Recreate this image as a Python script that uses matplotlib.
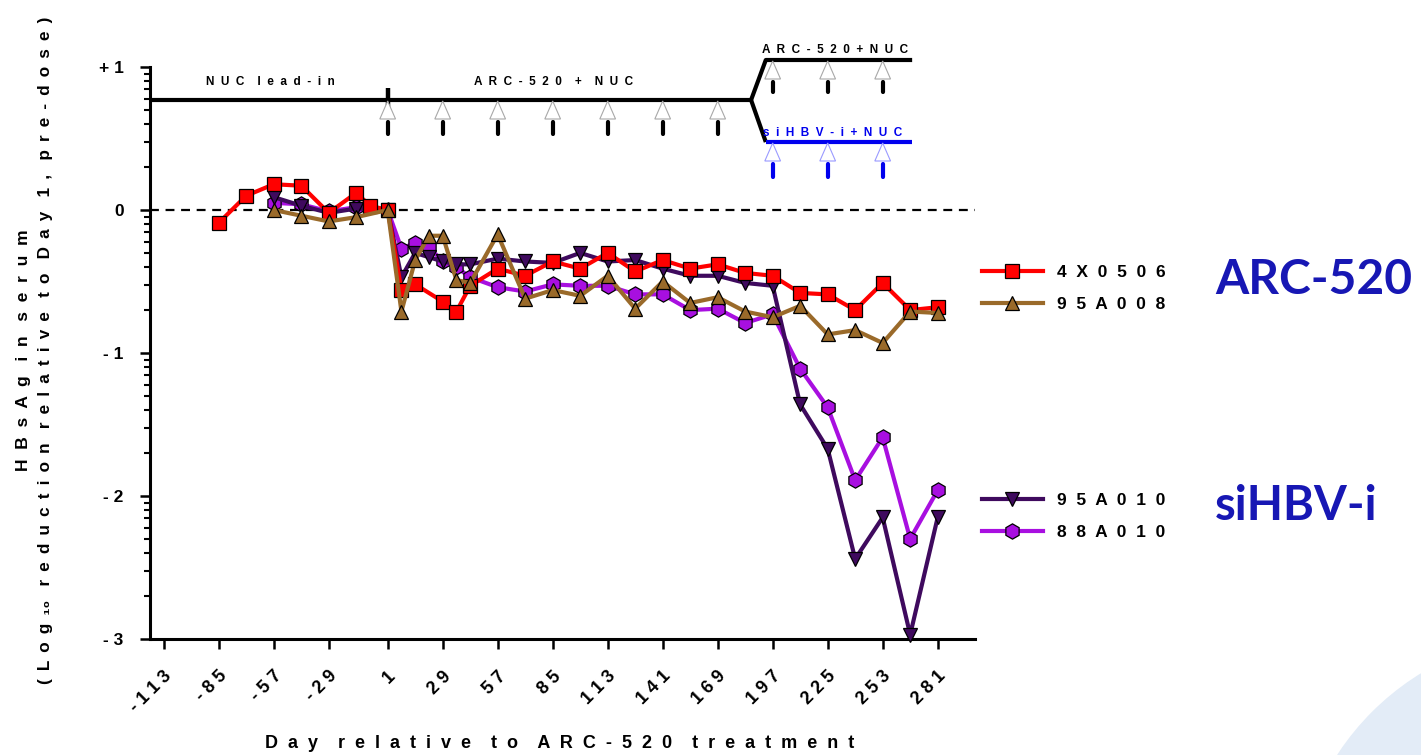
import matplotlib
matplotlib.use('Agg')
import matplotlib.pyplot as plt
from matplotlib.patches import Polygon, Circle
import numpy as np

plt.rcParams['font.family'] = ['Liberation Sans', 'DejaVu Sans']
plt.rcParams['font.weight'] = 'bold'

# ---------------- data ----------------
post_days = [57, 71, 85, 99, 113, 127, 141, 155, 169, 183, 197, 211, 225, 239, 253, 267, 281]

red_name = '4X0506'
red_days = [-85, -71, -57, -43, -29, -15, -8, 1, 8, 15, 29, 36, 43] + post_days
red_vals = [-0.09, 0.10, 0.18, 0.17, -0.02, 0.12, 0.03, 0.0,
            -0.56, -0.52, -0.64, -0.71, -0.53,
            -0.41, -0.46, -0.36, -0.41, -0.30, -0.43, -0.35, -0.41, -0.38,
            -0.44, -0.46, -0.58, -0.59, -0.70, -0.51, -0.70, -0.68]

brown_name = '95A008'
brown_days = [-57, -43, -29, -15, 1, 8, 15, 22, 29, 36, 43] + post_days
brown_vals = [0.0, -0.04, -0.08, -0.05, 0.0,
              -0.71, -0.35, -0.18, -0.18, -0.49, -0.51,
              -0.17, -0.62, -0.56, -0.60, -0.46, -0.69, -0.50, -0.65, -0.61,
              -0.71, -0.75, -0.67, -0.87, -0.84, -0.93, -0.71, -0.72]

dark_name = '95A010'
dark_days = [-57, -43, -29, -15, 1, 8, 15, 22, 29, 36, 43] + post_days
dark_vals = [0.09, 0.03, -0.02, 0.01, 0.0,
             -0.47, -0.30, -0.33, -0.36, -0.38, -0.38,
             -0.34, -0.36, -0.37, -0.30, -0.36, -0.35, -0.41, -0.46, -0.46,
             -0.51, -0.53, -1.36, -1.67, -2.44, -2.15, -2.97, -2.15]

mag_name = '88A010'
mag_days = [-57, -43, -29, -15, 1, 8, 15, 22, 29, 36, 43] + post_days
mag_vals = [0.05, 0.04, -0.01, 0.02, 0.0,
            -0.27, -0.23, -0.26, -0.36, -0.40, -0.47,
            -0.54, -0.57, -0.52, -0.53, -0.53, -0.59, -0.59, -0.70, -0.69,
            -0.79, -0.73, -1.11, -1.38, -1.89, -1.59, -2.30, -1.96]

x_ticks = [-113, -85, -57, -29, 1, 29, 57, 85, 113, 141, 169, 197, 225, 253, 281]
y_ticks = [1, 0, -1, -2, -3]
y_tick_labels = ['+1', '0', '-1', '-2', '-3']

arc_dose_days = [1, 29, 57, 85, 113, 141, 169]
switch_dose_days = [197, 225, 253]

x_title = 'Day relative to ARC-520 treatment'
y_title1 = 'HBsAg in serum'
y_title2 = '(Log\u2081\u2080 reduction relative to Day 1, pre-dose)'
group1 = 'ARC-520'
group2 = 'siHBV-i'


def sp(s, gap=' ', word=' ' * 3):
    words = s.split(' ')
    return word.join(gap.join(list(w)) for w in words)


# ---------------- figure ----------------
W, H = 1421, 755
fig = plt.figure(figsize=(W / 100, H / 100), dpi=100)
fig.patch.set_facecolor('white')

# slide decoration bottom right
fig.patches.append(Circle((15.6, -1.45), 2.66, transform=fig.dpi_scale_trans,
                          facecolor='#e3ecf7', edgecolor='none', zorder=0))

ax = fig.add_axes([150 / W, 1 - 639 / H, (975 - 150) / W, (639 - 67) / H])
ax.set_facecolor('none')
ax.set_xlim(-120, 300)
ax.set_ylim(-3, 1)

for s in ['top', 'right']:
    ax.spines[s].set_visible(False)
for s in ['left', 'bottom']:
    ax.spines[s].set_linewidth(2.2)

ax.set_xticks(x_ticks)
ax.set_xticklabels([])
ax.tick_params(axis='x', length=7, width=1.8, direction='out')
for d in x_ticks:
    ax.annotate(sp(str(d)), xy=(d, -3), xycoords='data', xytext=(4, -25),
                textcoords='offset points', rotation=45, rotation_mode='anchor',
                ha='right', va='center', fontsize=13, fontweight='bold')

ax.set_yticks(y_ticks)
ax.set_yticklabels([sp(t) for t in y_tick_labels], fontsize=12.5, fontweight='bold')
ax.tick_params(axis='y', length=7, width=1.8, direction='out', pad=12)
minor = []
for base in range(-3, 1):
    for k in range(2, 10):
        minor.append(base + np.log10(k))
ax.set_yticks(minor, minor=True)
ax.tick_params(axis='y', which='minor', length=4, width=1.5, direction='out')

# dashed zero line
ax.axhline(0, color='black', lw=1.6, ls=(0, (4, 3)), zorder=1)

# ---------------- series ----------------
lw = 3.0
l_mag, = ax.plot(mag_days, mag_vals, color='#a80fe0', lw=lw, marker='h', ms=11,
                 mfc='#a80fe0', mec='black', mew=0.9, clip_on=False, zorder=3)
l_dark, = ax.plot(dark_days, dark_vals, color='#3f0a5e', lw=lw, marker='v', ms=10.5,
                  mfc='#3f0a5e', mec='black', mew=0.9, clip_on=False, zorder=4)
l_red, = ax.plot(red_days, red_vals, color='#ff0000', lw=lw, marker='s', ms=10,
                 mfc='#ff0000', mec='black', mew=0.9, clip_on=False, zorder=5)
l_brown, = ax.plot(brown_days, brown_vals, color='#9a6a2a', lw=lw, marker='^', ms=10.5,
                   mfc='#9a6a2a', mec='black', mew=0.9, clip_on=False, zorder=6)

# ---------------- treatment schematic ----------------
def py(p):
    return 1 - (p - 67) / 143.0

ybase = py(100)
yup = py(60)
ylow = py(142)
kw = dict(clip_on=False, solid_capstyle='butt', zorder=2)
ax.plot([-120, 186], [ybase, ybase], color='black', lw=3.0, **kw)
ax.plot([186, 193.5, 268], [ybase, yup, yup], color='black', lw=3.0, **kw)
ax.plot([186, 193.5], [ybase, ylow], color='black', lw=3.0, **kw)
ax.plot([193.5, 268], [ylow, ylow], color='#0000ee', lw=3.0, **kw)
ax.plot([1, 1], [py(88), py(112)], color='black', lw=3.2, **kw)


def dose_arrow(d, tip, base, s0, s1, col):
    ax.add_patch(Polygon([(d, tip), (d - 4.0, base), (d + 4.0, base)], closed=True,
                         facecolor='white', edgecolor='#a8a8a8' if col == 'black' else '#9a9aff',
                         lw=0.8, clip_on=False, zorder=3))
    ax.plot([d, d], [s0, s1], color=col, lw=3.0, clip_on=False,
            solid_capstyle='round', zorder=3)


for d in arc_dose_days:
    dose_arrow(d, py(101), py(119), py(122), py(134), 'black')
for d in switch_dose_days:
    dose_arrow(d, py(61), py(79), py(82), py(92), 'black')
    dose_arrow(d, py(143), py(161), py(164), py(177), '#0000ee')

tkw = dict(fontsize=8.5, fontweight='bold', ha='center', va='center', clip_on=False)
ax.text(-58.6, py(82), sp('NUC lead-in', '  ', '    '), **tkw)
ax.text(85.5, py(82), sp('ARC-520 + NUC', '  ', '    '), **tkw)
ax.text(229, py(50), sp('ARC-520+NUC', '  ', '  '), **tkw)
ax.text(227.6, py(133), sp('siHBV-i+NUC', '  ', '  '), color='#0000ee', **tkw)

# ---------------- axis titles ----------------
fig.text(560 / W, 1 - 744 / H, sp(x_title, '  ', '    '), ha='center', va='center',
         fontsize=13, fontweight='bold')
fig.text(24 / W, 1 - 350 / H, sp(y_title1, '  ', '   '), rotation=90, ha='center',
         va='center', fontsize=12.5, fontweight='bold')
y2 = sp(y_title2, ' \u2009', '   ').replace('\u2081 \u2009\u2080', '\u2081\u2080')
fig.text(46 / W, 1 - 350 / H, y2, rotation=90, ha='center', va='center',
         fontsize=12.3, fontweight='bold', family=['Liberation Sans', 'DejaVu Sans'])

# ---------------- legends ----------------
lkw = dict(loc='upper left', bbox_transform=fig.transFigure, frameon=False,
           handlelength=3.5, handletextpad=0.8, labelspacing=0.95, borderpad=0,
           borderaxespad=0, numpoints=1, prop={'size': 12.5, 'weight': 'bold'})
leg1 = ax.legend([l_red, l_brown], [sp(red_name, '  '), sp(brown_name, '  ')],
                 bbox_to_anchor=(982 / W, 1 - 265 / H), **lkw)
ax.add_artist(leg1)
ax.legend([l_dark, l_mag], [sp(dark_name, '  '), sp(mag_name, '  ')],
          bbox_to_anchor=(982 / W, 1 - 493 / H), **lkw)

fig.text(1215 / W, 1 - 294 / H, group1, fontsize=34.5, fontweight='bold',
         family='Lato', color='#1717b4', ha='left', va='baseline')
fig.text(1215 / W, 1 - 520 / H, group2, fontsize=34, fontweight='bold',
         family='Lato', color='#1717b4', ha='left', va='baseline')

fig.savefig('out.png', dpi=100, facecolor='white')
